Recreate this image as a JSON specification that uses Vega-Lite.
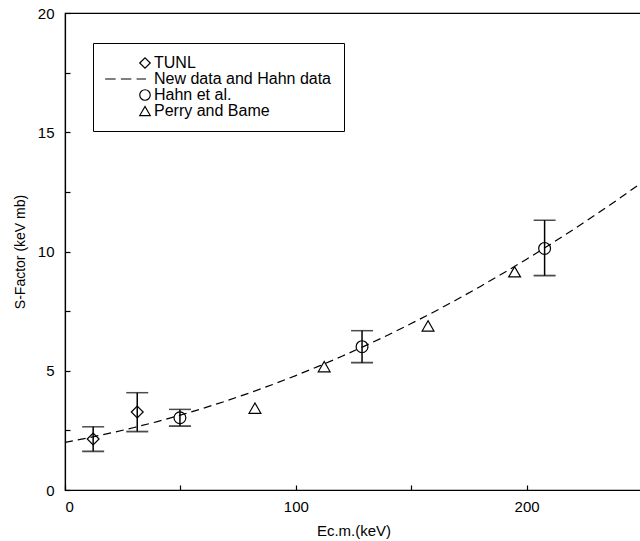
{
  "$schema": "https://vega.github.io/schema/vega-lite/v6.json",
  "autosize": "none",
  "width": 577,
  "height": 477,
  "padding": {"left": 65, "top": 13, "right": 0, "bottom": 51},
  "config": {
    "view": {"stroke": "black", "strokeWidth": 1.2},
    "font": "Liberation Sans",
    "axis": {"domainColor": "black", "tickColor": "black", "labelColor": "black", "titleColor": "black", "grid": false, "labelFont": "Liberation Sans", "titleFont": "Liberation Sans", "labelFontSize": 15, "titleFontSize": 15, "titleFontWeight": "normal", "tickSize": -5, "tickWidth": 1.2, "domainWidth": 1.2}
  },
  "datasets": {
    "pts": [
      {"series": "TUNL", "E": 12.2, "S": 2.14, "lo": 1.62, "hi": 2.65},
      {"series": "TUNL", "E": 31.3, "S": 3.27, "lo": 2.45, "hi": 4.08},
      {"series": "Hahn et al.", "E": 49.8, "S": 3.03, "lo": 2.68, "hi": 3.38},
      {"series": "Hahn et al.", "E": 128.7, "S": 6.01, "lo": 5.34, "hi": 6.68},
      {"series": "Hahn et al.", "E": 207.8, "S": 10.13, "lo": 8.99, "hi": 11.31},
      {"series": "Perry and Bame", "E": 82.3, "S": 3.43},
      {"series": "Perry and Bame", "E": 112.3, "S": 5.17},
      {"series": "Perry and Bame", "E": 157.3, "S": 6.88},
      {"series": "Perry and Bame", "E": 194.8, "S": 9.15}
    ],
    "fit": [
      {"E": 0, "S": 2.0}, {"E": 10, "S": 2.186}, {"E": 20, "S": 2.393}, {"E": 30, "S": 2.621},
      {"E": 40, "S": 2.869}, {"E": 50, "S": 3.139}, {"E": 60, "S": 3.429}, {"E": 70, "S": 3.74},
      {"E": 80, "S": 4.072}, {"E": 90, "S": 4.424}, {"E": 100, "S": 4.798}, {"E": 110, "S": 5.193},
      {"E": 120, "S": 5.607}, {"E": 130, "S": 6.043}, {"E": 140, "S": 6.5}, {"E": 150, "S": 6.978},
      {"E": 160, "S": 7.476}, {"E": 170, "S": 7.995}, {"E": 180, "S": 8.536}, {"E": 190, "S": 9.096},
      {"E": 200, "S": 9.678}, {"E": 210, "S": 10.281}, {"E": 220, "S": 10.903}, {"E": 230, "S": 11.548},
      {"E": 240, "S": 12.213}, {"E": 250, "S": 12.899}
    ]
  },
  "encoding": {
    "x": {"field": "E", "type": "quantitative", "scale": {"domain": [0, 250], "nice": false},
      "axis": {"values": [0, 50, 100, 150, 200, 250], "labelExpr": "datum.value % 100 == 0 ? datum.label : ''", "title": "Ec.m.(keV)", "labelPadding": 14, "titlePadding": 9}},
    "y": {"field": "S", "type": "quantitative", "scale": {"domain": [0, 20], "nice": false},
      "axis": {"values": [0, 2.5, 5, 7.5, 10, 12.5, 15, 17.5, 20], "labelExpr": "datum.value % 5 == 0 ? datum.label : ''", "title": "S-Factor (keV mb)", "labelPadding": 16, "titlePadding": 10, "titleFontSize": 14}}
  },
  "layer": [
    {
      "data": {"name": "fit"},
      "mark": {"type": "line", "color": "black", "strokeWidth": 1.2, "strokeDash": [8, 5]},
      "encoding": {}
    },
    {
      "data": {"name": "pts"},
      "transform": [{"filter": "isValid(datum.lo)"}],
      "mark": {"type": "rule", "color": "black", "strokeWidth": 1.5},
      "encoding": {"y": {"field": "lo", "type": "quantitative"}, "y2": {"field": "hi"}}
    },
    {
      "data": {"name": "pts"},
      "transform": [{"filter": "isValid(datum.lo)"}],
      "mark": {"type": "tick", "color": "black", "thickness": 1.8, "size": 22, "orient": "horizontal"},
      "encoding": {"y": {"field": "lo", "type": "quantitative"}}
    },
    {
      "data": {"name": "pts"},
      "transform": [{"filter": "isValid(datum.lo)"}],
      "mark": {"type": "tick", "color": "black", "thickness": 1.5, "size": 22, "orient": "horizontal"},
      "encoding": {"y": {"field": "hi", "type": "quantitative"}}
    },
    {
      "data": {"name": "pts"},
      "mark": {"type": "point", "filled": false, "stroke": "black", "strokeWidth": 1.2, "size": 140, "opacity": 1},
      "encoding": {
        "shape": {"field": "series", "type": "nominal",
          "scale": {"domain": ["TUNL", "New data and Hahn data", "Hahn et al.", "Perry and Bame"],
                    "range": ["diamond", "M-7.6,0H-5.6M-4.6,0H-2.6M-1.6,0H0.2", "circle", "triangle-up"]},
          "legend": {"orient": "none", "legendX": 28, "legendY": 30, "title": null,
            "strokeColor": "black", "fillColor": "white", "padding": 12,
            "labelFontSize": 16, "labelFont": "Liberation Sans", "labelColor": "black", "labelLimit": 400,
            "symbolStrokeColor": "black", "symbolStrokeWidth": 1.2, "symbolSize": 110, "symbolOpacity": 1,
            "rowPadding": 0, "labelOffset": 1, "symbolOffset": 32, "values": ["TUNL", "New data and Hahn data", "Hahn et al.", "Perry and Bame"]}}
      }
    }
  ]
}
